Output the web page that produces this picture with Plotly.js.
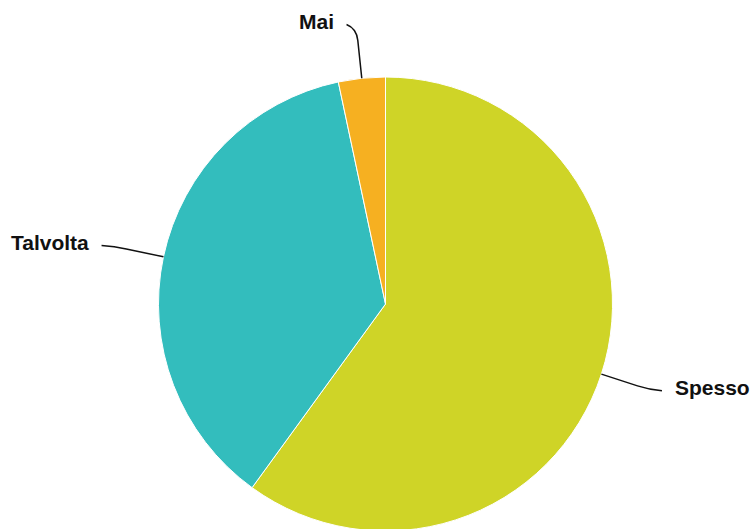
<!DOCTYPE html>
<html>
<head>
<meta charset="utf-8">
<script src="https://cdn.plot.ly/plotly-3.0.1.min.js"></script>
<style>
html,body{margin:0;padding:0;overflow:hidden;background:#fff;}
#chart{width:752px;height:531px;}
</style>
</head>
<body>
<div id="chart"></div>
<script>
// Data
var categories = ["Spesso", "Talvolta", "Mai"];
var values = [18, 11, 1];
var colors = ["#cfd427", "#33bdbd", "#f6b021"];

var W = 752, H = 531;
var margin = {l: 19, r: 0, t: 77, b: 0, pad: 0};
var pw = W - margin.l - margin.r, ph = H - margin.t - margin.b;
var cx = margin.l + pw / 2, cy = margin.t + ph / 2, R = Math.min(pw, ph) / 2;

function px2paperX(x) { return (x - margin.l) / pw; }
function px2paperY(y) { return (H - margin.b - y) / ph; }

var total = values.reduce(function (a, b) { return a + b; }, 0);
var shapes = [], annotations = [];
var acc = 0;
var L1 = 50, L2 = 13, bend = 12, gap = 12;
for (var i = 0; i < values.length; i++) {
  var midFrac = (acc + values[i] / 2) / total;
  acc += values[i];
  var ang = midFrac * 2 * Math.PI; // clockwise from top
  var dx = Math.sin(ang), dy = -Math.cos(ang);
  var sx = cx + R * dx, sy = cy + R * dy;
  var ex = cx + (R + L1) * dx, ey = cy + (R + L1) * dy;
  var p1x = cx + (R + L1 - bend) * dx, p1y = cy + (R + L1 - bend) * dy;
  var side = dx >= 0 ? 1 : -1;
  var len2 = (i === 2) ? 10 : L2;
  var tx = ex + side * len2, ty = ey + dy * 4;
  var path = "M" + px2paperX(sx) + "," + px2paperY(sy) +
             " L" + px2paperX(p1x) + "," + px2paperY(p1y) +
             " Q" + px2paperX(ex) + "," + px2paperY(ey) + " " + px2paperX(tx) + "," + px2paperY(ty);
  shapes.push({type: "path", xref: "paper", yref: "paper", path: path,
               line: {color: "#111111", width: 1.5}});
  annotations.push({
    xref: "paper", yref: "paper",
    x: px2paperX(tx + side * gap), y: px2paperY(ty - 3),
    xanchor: side > 0 ? "left" : "right", yanchor: "middle",
    text: "<b>" + categories[i] + "</b>", showarrow: false,
    font: {family: "Arial, Liberation Sans, sans-serif", size: 21, color: "#111111"},
    borderpad: 0
  });
}

var trace = {
  type: "pie",
  labels: categories,
  values: values,
  sort: false,
  direction: "clockwise",
  rotation: 0,
  textinfo: "none",
  hoverinfo: "label+percent",
  marker: {colors: colors, line: {color: "#ffffff", width: 1}},
  showlegend: false
};

var layout = {
  width: W, height: H,
  margin: margin,
  paper_bgcolor: "#ffffff",
  showlegend: false,
  shapes: shapes,
  annotations: annotations
};

Plotly.newPlot("chart", [trace], layout, {displayModeBar: false, staticPlot: true});
</script>
</body>
</html>
